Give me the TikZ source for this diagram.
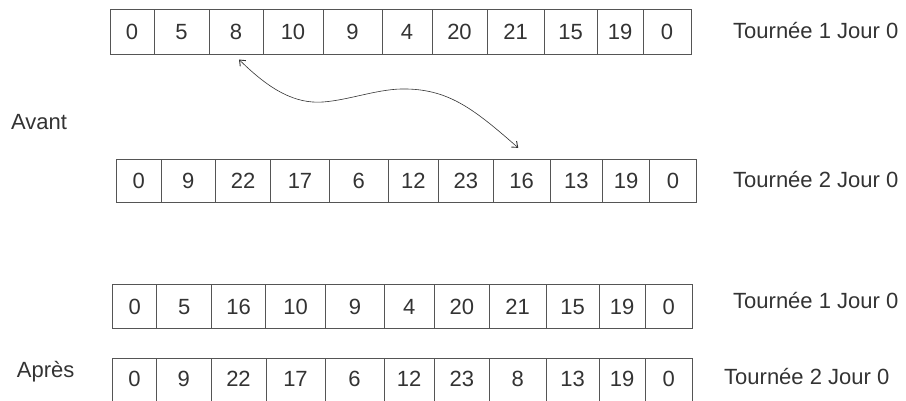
\documentclass[tikz,border=0pt]{standalone}
\usepackage{fontspec}
\setmainfont{Liberation Sans}
\usetikzlibrary{arrows.meta,calc}
\definecolor{txt}{HTML}{333333}
\definecolor{ln}{HTML}{555555}
\begin{document}
\begin{tikzpicture}[x=1pt,y=-1pt,
  every node/.style={font=\fontsize{22}{26}\selectfont, text=txt},
  cell/.style={draw=ln, line width=0.9pt, inner sep=0pt, text height=15.5pt, text depth=0pt},
  lab/.style={inner sep=0pt, anchor=west, text height=15.5pt, text depth=0pt},
  swap/.style={draw=txt, line width=0.6pt, {Straight Barb[length=5pt,width=8pt,line width=0.9pt]}-{Straight Barb[length=5pt,width=8pt,line width=0.9pt]}}]
\useasboundingbox (0,0) rectangle (906,401);
\clip (0,0) rectangle (906,401);
% Row 1
\foreach \l/\r/\t [count=\i] in {110/154/0,154/209/5,209/263/8,263/323/10,323/382/9,382/432/4,432/487/20,487/544/21,544/597/15,597/643/19,643/691/0}
  \node[cell, minimum width={(\r-\l)*1pt}, minimum height=44.7pt] (r1c\i) at ({(\l+\r)/2},31.7) {\t};
% Row 2
\foreach \l/\r/\t [count=\i] in {116.7/161/0,161/215.7/9,215.7/270.7/22,270.7/329.3/17,329.3/388.3/6,388.3/438.3/12,438.3/493.3/23,493.3/550/16,550/602.7/13,602.7/649.3/19,649.3/696.7/0}
  \node[cell, minimum width={(\r-\l)*1pt}, minimum height=43.4pt] (r2c\i) at ({(\l+\r)/2},181) {\t};
% Row 3
\foreach \l/\r/\t [count=\i] in {112.7/156.7/0,156.7/211.7/5,211.7/265.7/16,265.7/325.7/10,325.7/384.3/9,384.3/434.3/4,434.3/489.3/20,489.3/546/21,546/599/15,599/645/19,645/692.7/0}
  \node[cell, minimum width={(\r-\l)*1pt}, minimum height=44pt] (r3c\i) at ({(\l+\r)/2},306.3) {\t};
% Row 4 (its lower edge runs off the picture)
\foreach \l/\r/\t [count=\i] in {112.3/156.7/0,156.7/211/9,211/266/22,266/325/17,325/384/6,384/434.3/12,434.3/489.3/23,489.3/546/8,546/599/13,599/645/19,645/692.7/0}
  \node[cell, minimum width={(\r-\l)*1pt}, minimum height=48pt] (r4c\i) at ({(\l+\r)/2},382.3) {\raisebox{4pt}{\t}};
% Labels
\node[lab] (t1) at (733,30.7) {Tournée 1 Jour 0};
\node[lab] (t2) at (733,179.7) {Tournée 2 Jour 0};
\node[lab] (t3) at (733,301) {Tournée 1 Jour 0};
\node[lab] (t4) at (724,377) {Tournée 2 Jour 0};
\node[lab] (avant) at (11,122) {Avant};
\node[lab] (apres) at (16.7,369.3) {Après};
% Swap arrow
\coordinate (a) at ($(r1c3.south)+(3,5)$);
\coordinate (b) at ($(r2c8.north)+(-3.4,-11)$);
\draw[swap] (a) .. controls (270,90) and (295,104) .. (323,102)
  .. controls (350,100) and (380,88) .. (407,89)
  .. controls (450,90) and (475,110) .. (b);
\end{tikzpicture}
\end{document}
